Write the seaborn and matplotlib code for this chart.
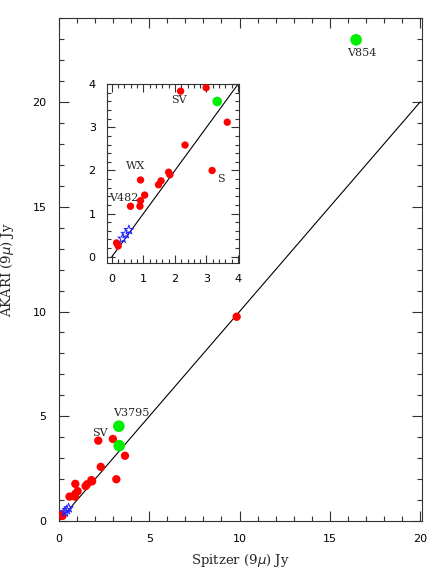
import numpy as np
import pandas as pd
import matplotlib
matplotlib.use("Agg")
import matplotlib.pyplot as plt
from matplotlib.ticker import MultipleLocator
import seaborn as sns

# 9 micron fluxes (Jy): Spitzer vs AKARI
red_x = [0.15, 0.20, 0.59, 0.89, 0.91, 0.91, 1.04, 1.48, 1.56, 1.80, 1.84,
         2.18, 2.32, 2.99, 3.18, 3.66, 9.84]
red_y = [0.32, 0.25, 1.17, 1.17, 1.30, 1.78, 1.43, 1.67, 1.76, 1.96, 1.90,
         3.84, 2.59, 3.92, 2.00, 3.12, 9.75]
green_x = [3.34, 3.32, 16.45]
green_y = [3.60, 4.53, 22.96]
star_x = [0.34, 0.44, 0.54]
star_y = [0.42, 0.53, 0.62]

main_labels = [("SV", 2.27, 4.21), ("V3795", 4.0, 5.14), ("V854", 16.79, 22.32)]
inset_labels = [("SV", 2.12, 3.63), ("WX", 0.74, 2.10), ("V482", 0.39, 1.37), ("S", 3.45, 1.80)]

red = pd.DataFrame({"x": red_x, "y": red_y})
green = pd.DataFrame({"x": green_x, "y": green_y})
stars = pd.DataFrame({"x": star_x, "y": star_y})

sns.set_style("ticks")
plt.rcParams["font.family"] = ["DejaVu Sans"]

fig = plt.figure(figsize=(4.36, 5.81), dpi=100)
ax = fig.add_axes([0.135, 0.103, 0.833, 0.866])
ins = fig.add_axes([0.245, 0.547, 0.303, 0.308])


def draw(a, xmax, rsize, gsize, ssize):
    one = pd.DataFrame({"x": [0, xmax], "y": [0, xmax]})
    sns.lineplot(data=one, x="x", y="y", ax=a, color="black", lw=0.8)
    sns.scatterplot(data=red, x="x", y="y", ax=a, color="#ff0000", s=rsize,
                    edgecolor="none", zorder=3)
    sns.scatterplot(data=green, x="x", y="y", ax=a, color="#00ee00", s=gsize,
                    edgecolor="none", zorder=3)
    a.scatter(stars.x, stars.y, marker="*", s=ssize, facecolors="none",
              edgecolors="#2222ff", linewidths=0.7, zorder=4)
    a.tick_params(which="both", direction="in", top=True, right=True,
                  colors="#333333", labelcolor="black", labelsize=8)
    for sp in a.spines.values():
        sp.set_color("#333333")
        sp.set_linewidth(0.8)
    a.set_xlabel("")
    a.set_ylabel("")


draw(ax, 20, 36, 70, 50)
ax.set_xlim(0, 20.1)
ax.set_ylim(0, 24)
ax.xaxis.set_major_locator(MultipleLocator(5))
ax.xaxis.set_minor_locator(MultipleLocator(1))
ax.yaxis.set_major_locator(MultipleLocator(5))
ax.yaxis.set_minor_locator(MultipleLocator(1))
ax.tick_params(which="major", length=7, width=0.8, pad=9)
ax.tick_params(which="minor", length=3.5, width=0.8)
ax.set_xlabel(r"Spitzer (9$\mu$) Jy", family="DejaVu Serif", fontsize=9.5, labelpad=6)
ax.set_ylabel(r"AKARI (9$\mu$) Jy", family="DejaVu Serif", fontsize=9.5, labelpad=12)
for t, x, y in main_labels:
    ax.text(x, y, t, family="DejaVu Serif", fontsize=8, ha="center", va="center")

draw(ins, 4, 28, 48, 50)
ins.set_xlim(-0.16, 4.03)
ins.set_ylim(-0.15, 4.0)
ins.xaxis.set_major_locator(MultipleLocator(1))
ins.xaxis.set_minor_locator(MultipleLocator(0.2))
ins.yaxis.set_major_locator(MultipleLocator(1))
ins.yaxis.set_minor_locator(MultipleLocator(0.2))
ins.tick_params(which="major", length=6, width=0.8, pad=8)
ins.tick_params(which="minor", length=3, width=0.8)
for t, x, y in inset_labels:
    ins.text(x, y, t, family="DejaVu Serif", fontsize=8, ha="center", va="center")

fig.savefig("out.png", dpi=100)
